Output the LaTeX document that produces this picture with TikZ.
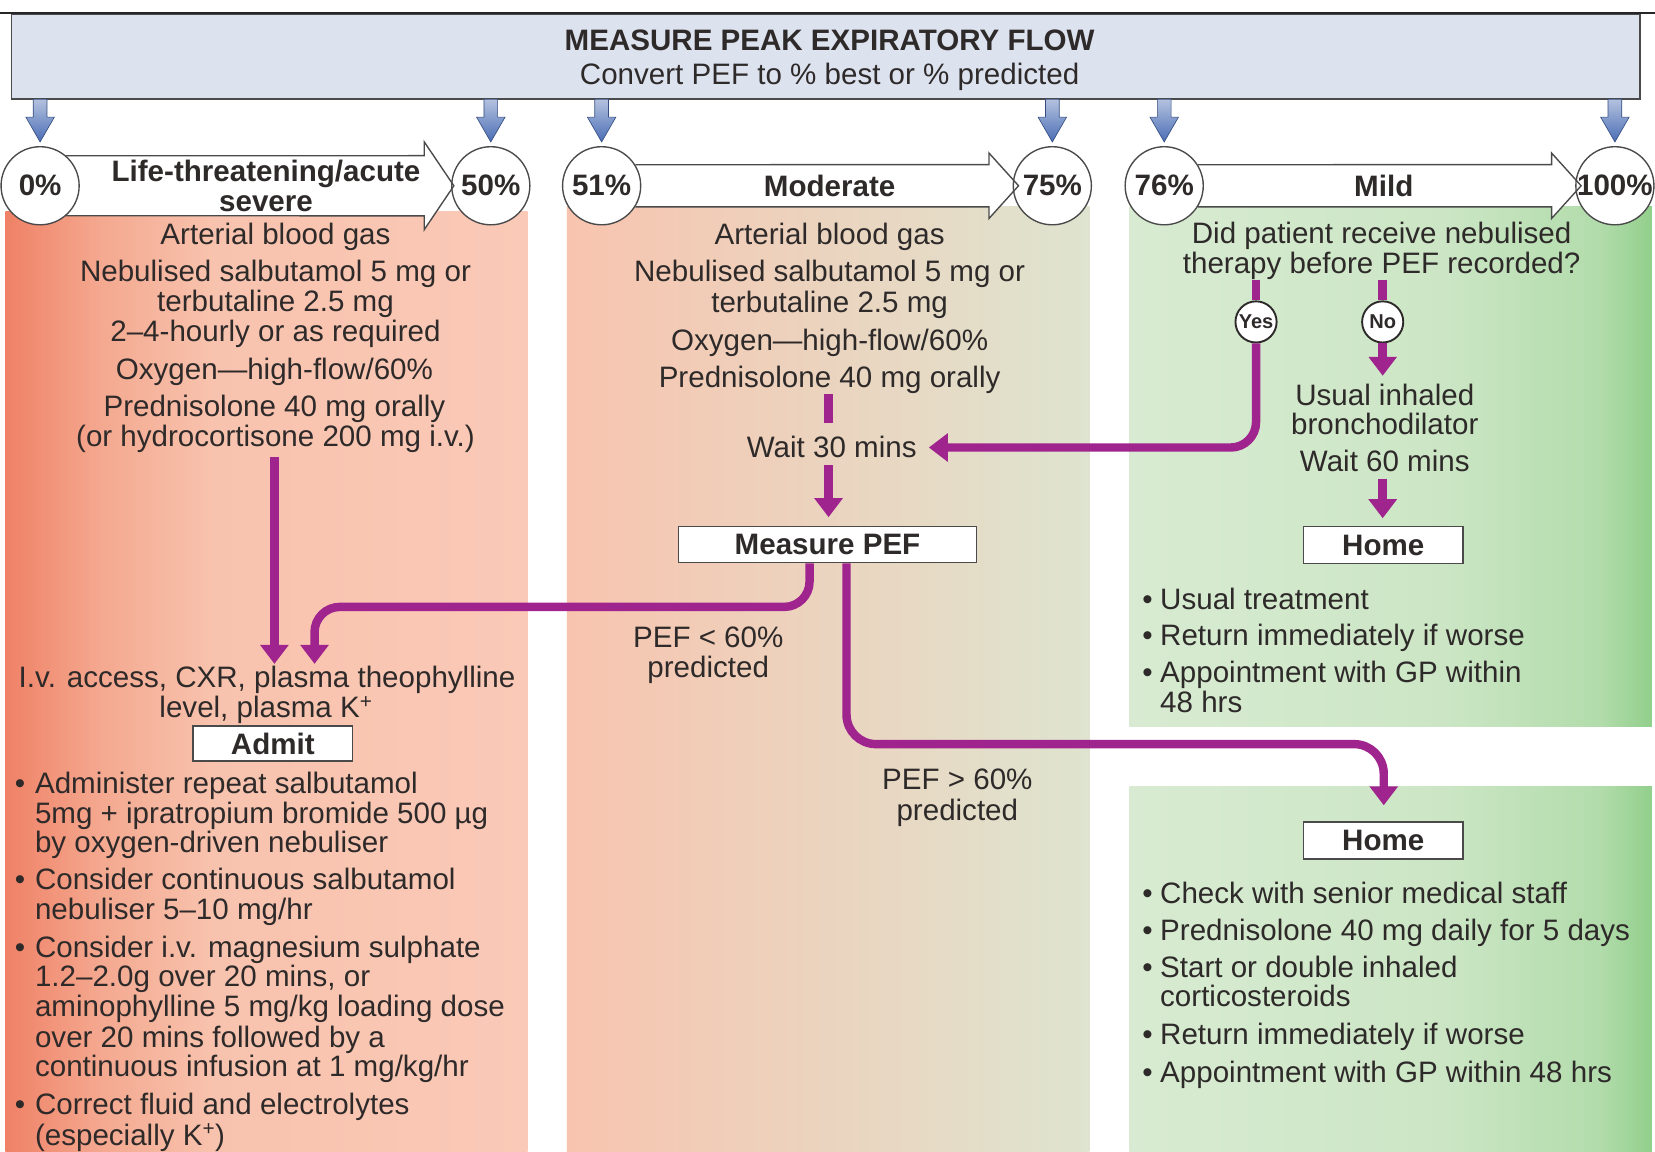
\documentclass[tikz,border=0pt]{standalone}
\usepackage{fontspec}
\setmainfont{Liberation Sans}
\usetikzlibrary{arrows.meta}
\definecolor{ink}{HTML}{2E2A2A}
\definecolor{purp}{HTML}{A0248E}
\definecolor{topfill}{HTML}{DDE2EF}
\definecolor{edge}{HTML}{4A4A4A}
\definecolor{redA}{HTML}{EF8166}
\definecolor{redB}{HTML}{F4A88F}
\definecolor{redC}{HTML}{F8C3AE}
\definecolor{redD}{HTML}{FAC9B7}
\definecolor{midA}{HTML}{F8C4AF}
\definecolor{midB}{HTML}{DEE4CF}
\definecolor{grA}{HTML}{D8EBD2}
\definecolor{grB}{HTML}{CCE6C5}
\definecolor{grC}{HTML}{B2DCAB}
\definecolor{grD}{HTML}{92CF8C}
\definecolor{blA}{HTML}{4A6DB5}
\definecolor{blB}{HTML}{B4C2DF}
\pgfdeclarehorizontalshading{redshade}{100bp}{color(0bp)=(redA); color(25bp)=(redA); color(34bp)=(redB); color(45bp)=(redC); color(75bp)=(redD); color(100bp)=(redD)}
\pgfdeclarehorizontalshading{midshade}{100bp}{color(0bp)=(midA); color(25bp)=(midA); color(75bp)=(midB); color(100bp)=(midB)}
\pgfdeclarehorizontalshading{grshade}{100bp}{color(0bp)=(grA); color(25bp)=(grA); color(55bp)=(grB); color(70bp)=(grC); color(75bp)=(grD); color(100bp)=(grD)}
\tikzset{
  tx/.style={font=\fontsize{28}{28.5}\selectfont, text=ink, inner sep=0pt, anchor=base},
  txl/.style={tx, anchor=base west},
  bd/.style={tx, font=\fontsize{28}{28.5}\selectfont\bfseries},
  pc/.style={circle, draw=edge, line width=1.3pt, fill=white, minimum size=74pt, inner sep=0pt},
  yn/.style={circle, draw=ink, line width=1.8pt, fill=white, minimum size=39pt, inner sep=0pt, font=\fontsize{19}{19}\selectfont\bfseries, text=ink},
  bx/.style={draw=edge, line width=1.5pt, fill=white, inner sep=0pt, font=\fontsize{28}{28}\selectfont\bfseries, text=ink},
  parr/.style={draw=purp, line width=8pt, -{Triangle[width=26pt,length=18pt]}},
  pstub/.style={draw=purp, line width=8pt},
  wa/.style={draw=edge, line width=1.3pt, line join=miter},
}
\begin{document}
\begin{tikzpicture}[x=1pt,y=-1pt]
\useasboundingbox (0,0) rectangle (1568,1091);
% column backgrounds
\shade[shading=redshade] (5,200) rectangle (500,1091);
\shade[shading=midshade] (537,196) rectangle (1032,1091);
\shade[shading=grshade] (1070,196) rectangle (1565,688);
\shade[shading=grshade] (1070,745) rectangle (1565,1091);
% top box
\draw[line width=1.6pt, black!85] (0,12) -- (1568,12);
\node[draw=edge, line width=1.5pt, fill=topfill, minimum width=1543pt, minimum height=80pt, inner sep=0pt, anchor=north west] (topbox) at (10,13) {};
\node[bd] (title) at (786,48) {MEASURE PEAK EXPIRATORY FLOW};
\node[tx] (subtitle) at (786,80) {Convert PEF to \% best or \% predicted};
% blue arrows
\foreach \x in {38,465,570,997,1103,1530} {
  \shadedraw[top color=blB, bottom color=blA, draw=blA!70!black, line width=0.6pt]
    (\x-6.5,94) -- (\x-6.5,111) -- (\x-13.5,111) -- (\x,134.5) -- (\x+13.5,111) -- (\x+6.5,111) -- (\x+6.5,94) -- cycle;
}
% wide arrow fills
\fill[white] (38,147.5) -- (402,147.5) -- (402,134.5) -- (430,176) -- (402,217.5) -- (402,204.5) -- (38,204.5) -- cycle;
\fill[white] (570,156) -- (937,156) -- (937,145) -- (965,176) -- (937,207) -- (937,196) -- (570,196) -- cycle;
\fill[white] (1103,156) -- (1470,156) -- (1470,145) -- (1498,176) -- (1470,207) -- (1470,196) -- (1103,196) -- cycle;
% circles
\node[pc] (c0) at (38,176) {};   \node[bd, anchor=center] (t0) at (c0) {0\%};
\node[pc] (c1) at (465,176) {};  \node[bd, anchor=center] (t1) at (c1) {50\%};
\node[pc] (c2) at (570,176) {};  \node[bd, anchor=center] (t2) at (c2) {51\%};
\node[pc] (c3) at (997,176) {};  \node[bd, anchor=center] (t3) at (c3) {75\%};
\node[pc] (c4) at (1103,176) {}; \node[bd, anchor=center] (t4) at (c4) {76\%};
\node[pc] (c5) at (1530,176) {}; \node[bd, anchor=center] (t5) at (c5) {100\%};
% wide arrow outlines
\draw[wa] (c0.49) -- (402,147.5) -- (402,134.5) -- (430,176) -- (402,217.5) -- (402,204.5) -- (c0.-49);
\draw[wa] (c2.32) -- (937,156) -- (937,145) -- (965,176) -- (937,207) -- (937,196) -- (c2.-32);
\draw[wa] (c4.32) -- (1470,156) -- (1470,145) -- (1498,176) -- (1470,207) -- (1470,196) -- (c4.-32);
\node[bd] (lifeA) at (252,172) {Life-threatening/acute};
\node[bd] (lifeB) at (252,200) {severe};
\node[bd] (moder) at (786,186) {Moderate};
\node[bd] (mild) at (1311,186) {Mild};
% left column
\node[tx] (L1) at (261,232) {Arterial blood gas};
\node[tx] (L2) at (261,267) {Nebulised salbutamol 5 mg or};
\node[tx] (L3) at (261,295) {terbutaline 2.5 mg};
\node[tx] (L4) at (261,324) {2–4-hourly or as required};
\node[tx] (L5) at (260,360) {Oxygen—high-flow/60\%};
\node[tx] (L6) at (260,395) {Prednisolone 40 mg orally};
\node[tx] (L7) at (261,423) {(or hydrocortisone 200 mg i.v.)};
\node[tx] (L8) at (253,651) {I.v. access, CXR, plasma theophylline};
\node[tx] (L9) at (252,680) {level, plasma K\textsuperscript{+}};
\node[bx, minimum width=151pt, minimum height=33pt] (admit) at (258.5,704.5) {Admit};
\foreach \y in {752,843,907,1056} { \node[txl] at (14,\y) {•}; }
\node[txl] (B1) at (33,752) {Administer repeat salbutamol};
\node[txl] (B2) at (33,780) {5mg + ipratropium bromide 500 µg};
\node[txl] (B3) at (33,808) {by oxygen-driven nebuliser};
\node[txl] (B4) at (33,843) {Consider continuous salbutamol};
\node[txl] (B5) at (33,871) {nebuliser 5–10 mg/hr};
\node[txl] (B6) at (33,907) {Consider i.v. magnesium sulphate};
\node[txl] (B7) at (33,935) {1.2–2.0g over 20 mins, or};
\node[txl] (B8) at (33,963) {aminophylline 5 mg/kg loading dose};
\node[txl] (B9) at (33,992) {over 20 mins followed by a};
\node[txl] (B10) at (33,1020) {continuous infusion at 1 mg/kg/hr};
\node[txl] (B11) at (33,1056) {Correct fluid and electrolytes};
\node[txl] (B12) at (33,1085) {(especially K\textsuperscript{+})};
% middle column
\node[tx] (M1) at (786,232) {Arterial blood gas};
\node[tx] (M2) at (786,267) {Nebulised salbutamol 5 mg or};
\node[tx] (M3) at (786,296) {terbutaline 2.5 mg};
\node[tx] (M4) at (786,332) {Oxygen—high-flow/60\%};
\node[tx] (M5) at (786,367) {Prednisolone 40 mg orally};
\node[tx] (wait30) at (788,433) {Wait 30 mins};
\node[bx, minimum width=282pt, minimum height=34pt] (mpef) at (784,516) {Measure PEF};
\node[tx] (lt1) at (671,613) {PEF < 60\%};
\node[tx] (lt2) at (671,642) {predicted};
\node[tx] (gt1) at (907,748) {PEF > 60\%};
\node[tx] (gt2) at (907,777) {predicted};
% right column top
\node[tx] (R1) at (1309,231) {Did patient receive nebulised};
\node[tx] (R2) at (1309,259) {therapy before PEF recorded?};
\node[yn] (yes) at (1190,305) {Yes};
\node[yn] (no) at (1310,305) {No};
\node[tx] (R3) at (1312,384) {Usual inhaled};
\node[tx] (R4) at (1312,412) {bronchodilator};
\node[tx] (wait60) at (1312,447) {Wait 60 mins};
\node[bx, minimum width=151pt, minimum height=35pt] (home1) at (1310.5,516.5) {Home};
\foreach \y in {577,612,647} { \node[txl] at (1082,\y) {•}; }
\node[txl] (H1) at (1099,577) {Usual treatment};
\node[txl] (H2) at (1099,612) {Return immediately if worse};
\node[txl] (H3) at (1099,647) {Appointment with GP within};
\node[txl] (H4) at (1099,675) {48 hrs};
% right column bottom
\node[bx, minimum width=151pt, minimum height=35pt] (home2) at (1310.5,796.5) {Home};
\foreach \y in {856,891,926,990,1026} { \node[txl] at (1082,\y) {•}; }
\node[txl] (K1) at (1099,856) {Check with senior medical staff};
\node[txl] (K2) at (1099,891) {Prednisolone 40 mg daily for 5 days};
\node[txl] (K3) at (1099,926) {Start or double inhaled};
\node[txl] (K4) at (1099,954) {corticosteroids};
\node[txl] (K5) at (1099,990) {Return immediately if worse};
\node[txl] (K6) at (1099,1026) {Appointment with GP within 48 hrs};
% purple connectors
\coordinate (a1s) at (260,433);
\coordinate (a1e) at (260,629);
\draw[parr] (a1s) -- (a1e);
\draw[parr, rounded corners=24pt] ([xshift=-17pt]mpef.south) -- (767,575) -- (298,575) -- (298,629);
\draw[parr, rounded corners=28pt] ([xshift=18pt]mpef.south) -- (802,705) -- (1311,705) -- (1311,763);
\draw[pstub] (785,373) -- (785,401);
\draw[parr] (785,441) -- (785,490);
\draw[pstub] (1190,265) -- (yes.north);
\draw[pstub] (1310,265) -- (no.north);
\draw[parr, rounded corners=24pt] (yes.south) -- (1190,424) -- (880,424);
\draw[parr] (no.south) -- (1310,356);
\draw[parr] (1310,454) -- (1310,491);
\end{tikzpicture}
\end{document}
